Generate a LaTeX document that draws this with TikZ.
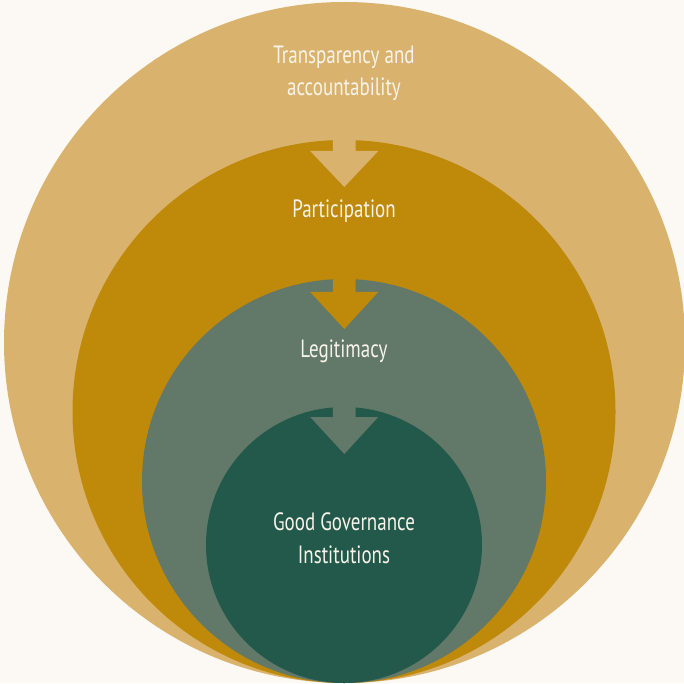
\documentclass[tikz,border=0pt]{standalone}
\usepackage{fontspec}
\setmainfont{PT Sans}[FakeStretch=0.76]
\definecolor{bgc}{HTML}{FCF9F4}
\definecolor{tanc}{HTML}{D9B36E}
\definecolor{goldc}{HTML}{BF890A}
\definecolor{sagec}{HTML}{627868}
\definecolor{deepc}{HTML}{23594B}
\definecolor{txtc}{HTML}{F8F4EA}
\tikzset{
  ring/.style={circle, inner sep=0pt, outer sep=0pt, draw=none},
  label/.style={text=txtc, font=\fontsize{25}{32}\selectfont, align=center, anchor=base, inner sep=0pt},
}
\newcommand{\downarrowshape}[4]{% color, shaft top, head top, tip
  \fill[#1] (332.9pt,#2) -- (355.7pt,#2) -- (355.7pt,#3) -- (378.3pt,#3) -- (344.3pt,#4) -- (310.2pt,#3) -- (332.9pt,#3) -- cycle;
}
\begin{document}
\begin{tikzpicture}[x=1pt,y=1pt]
\useasboundingbox (0,0) rectangle (684,683);
\fill[bgc] (0,0) rectangle (684,683);
\node[ring, fill=tanc, minimum size=681pt] (c1) at (344.5,340.5) {};
\node[ring, fill=goldc, minimum size=543pt] (c2) at (344,271.5) {};
\downarrowshape{tanc}{548pt}{532pt}{496pt}
\node[ring, fill=sagec, minimum size=404pt] (c3) at (344,202) {};
\downarrowshape{goldc}{408pt}{391pt}{354pt}
\node[ring, fill=deepc, minimum size=276pt] (c4) at (344,138) {};
\downarrowshape{sagec}{280pt}{266pt}{229pt}
\node[label] (t1) at (344,587) {Transparency and\\accountability};
\node[label] (t2) at (344,465.7) {Participation};
\node[label] (t3) at (344,325.7) {Legitimacy};
\node[label, font=\fontsize{25}{33.3}\selectfont] (t4) at (344,119.7) {Good Governance\\Institutions};
\end{tikzpicture}
\end{document}
